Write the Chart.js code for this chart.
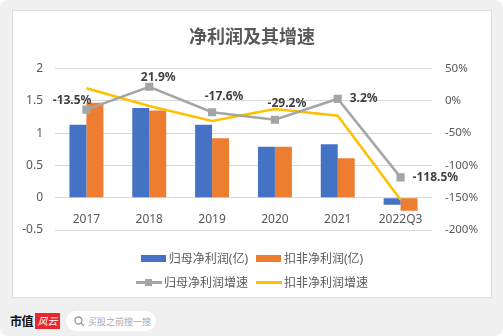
<!DOCTYPE html>
<html>
<head>
<meta charset="utf-8">
<script src="https://cdn.jsdelivr.net/npm/chart.js@4.4.1/dist/chart.umd.min.js"></script>
<style>
  body { margin: 0; background: #fff; font-family: "Noto Sans", "Noto Sans CJK SC", sans-serif; }
  #frame { position: relative; width: 503px; height: 336px; background: #f0f0f0; border-radius: 8px; overflow: hidden; }
  #card { position: absolute; left: 12px; top: 10px; width: 478px; height: 286px; background: #fff; border: 1px solid #dcdcdc; }
  #chartBox { position: absolute; left: 0; top: 0; width: 478px; height: 286px; }
  .legend-row { position: absolute; left: 0; width: 478px; display: flex; justify-content: center; gap: 8px; font-size: 12px; color: #595959; }
  .legend-item { display: flex; align-items: center; }
  .swatch { position: relative; width: 25px; height: 12px; margin-right: 3px; }
  .swatch .box { position: absolute; left: 0; top: 3px; width: 25px; height: 7px; }
  .swatch .line { position: absolute; left: 0; top: 5px; width: 26px; height: 2.5px; }
  .swatch .mark { position: absolute; left: 9px; top: 2.5px; width: 7px; height: 7px; }
  #footer { position: absolute; left: 10px; top: 311px; height: 20px; display: flex; align-items: center; }
  #brand { font-size: 12px; font-weight: bold; color: #111; letter-spacing: -0.5px; }
  #logo { margin-left: 2px; width: 25px; height: 16px; background: #e8262b; color: #fff; font-size: 10px; font-style: italic; line-height: 16px; text-align: center; }
  #search { margin-left: 6px; width: 90px; height: 20px; background: #fff; border-radius: 10px; display: flex; align-items: center; font-size: 9px; color: #aaa; }
  #search svg { margin: 0 3px 0 8px; }
</style>
</head>
<body>
<div id="frame">
  <div id="card">
    <div id="chartBox"><canvas id="chart"></canvas></div>
    <div class="legend-row" id="legend1" style="top:238px"></div>
    <div class="legend-row" id="legend2" style="top:262px"></div>
  </div>
  <div id="footer">
    <span id="brand">市值</span>
    <span id="logo">风云</span>
    <span id="search">
      <svg width="11" height="11" viewBox="0 0 11 11"><circle cx="4.5" cy="4.5" r="3.5" fill="none" stroke="#999" stroke-width="1.3"/><line x1="7" y1="7" x2="10" y2="10" stroke="#999" stroke-width="1.3"/></svg>
      买股之前搜一搜
    </span>
  </div>
</div>

<script>
// 数据
const years = ['2017', '2018', '2019', '2020', '2021', '2022Q3'];
const parentProfit = [1.13, 1.39, 1.13, 0.79, 0.83, -0.11];      // 归母净利润(亿)
const deductedProfit = [1.47, 1.35, 0.92, 0.79, 0.61, -0.20];    // 扣非净利润(亿)
const parentGrowth = [-13.5, 21.9, -17.6, -29.2, 3.2, -118.5];   // 归母净利润增速 %
const deductedGrowth = [19.5, -8, -31, -12.5, -23, -153];        // 扣非净利润增速 %

const seriesNames = ['归母净利润(亿)', '扣非净利润(亿)', '归母净利润增速', '扣非净利润增速'];
const COLORS = { blue: '#4472C4', orange: '#ED7D31', gray: '#A5A5A5', yellow: '#FFC000' };
const TEXT = '#595959';
const FONT = '"Noto Sans", "Noto Sans CJK SC", sans-serif';

// 归母增速的数据标签（位置手动调过，跟原图一致）
const growthLabels = {
  id: 'growthLabels',
  afterDatasetsDraw(chart) {
    const meta = chart.getDatasetMeta(2);
    const ctx = chart.ctx;
    const place = ['upleft', 'up', 'upright', 'upright', 'right', 'right'];
    ctx.save();
    ctx.font = 'bold 12px ' + FONT;
    ctx.fillStyle = '#404040';
    ctx.textBaseline = 'middle';
    meta.data.forEach((pt, i) => {
      const txt = parentGrowth[i].toFixed(1) + '%';
      const p = place[i];
      if (p === 'upleft') { ctx.textAlign = 'right'; ctx.fillText(txt, pt.x + 5, pt.y - 9); }
      else if (p === 'up') { ctx.textAlign = 'center'; ctx.fillText(txt, pt.x + 9, pt.y - 9); }
      else if (p === 'upright') { ctx.textAlign = 'center'; ctx.fillText(txt, pt.x + 12, pt.y - 16); }
      else { ctx.textAlign = 'left'; ctx.fillText(txt, pt.x + 12, pt.y); }
    });
    ctx.restore();
  }
};

new Chart(document.getElementById('chart'), {
  type: 'bar',
  data: {
    labels: years,
    datasets: [
      { label: seriesNames[0], data: parentProfit, backgroundColor: COLORS.blue, yAxisID: 'y', order: 2,
        barPercentage: 1, categoryPercentage: 0.54 },
      { label: seriesNames[1], data: deductedProfit, backgroundColor: COLORS.orange, yAxisID: 'y', order: 2,
        barPercentage: 1, categoryPercentage: 0.54 },
      { type: 'line', label: seriesNames[2], data: parentGrowth, yAxisID: 'y1', order: 0,
        borderColor: COLORS.gray, backgroundColor: COLORS.gray, borderWidth: 2.5,
        pointStyle: 'rect', pointRadius: 4, pointHoverRadius: 4, tension: 0 },
      { type: 'line', label: seriesNames[3], data: deductedGrowth, yAxisID: 'y1', order: 1,
        borderColor: COLORS.yellow, backgroundColor: COLORS.yellow, borderWidth: 2.5,
        pointRadius: 0, tension: 0 }
    ]
  },
  options: {
    responsive: true,
    maintainAspectRatio: false,
    animation: false,
    layout: { padding: { left: 0, right: 0, top: 0, bottom: 67 } },
    plugins: {
      legend: { display: false },
      tooltip: { enabled: false },
      title: {
        display: true,
        text: '净利润及其增速',
        color: TEXT,
        font: { family: FONT, size: 18, weight: 'bold' },
        padding: { top: 16, bottom: 20 }
      }
    },
    scales: {
      x: {
        position: { y: 0 },
        grid: { display: false },
        border: { display: false },
        ticks: { color: TEXT, font: { family: FONT, size: 12 }, padding: 7, maxRotation: 0 }
      },
      y: {
        position: 'left',
        min: -0.5, max: 2,
        ticks: { stepSize: 0.5, color: TEXT, font: { family: FONT, size: 12 }, padding: 12, callback: v => String(v) },
        grid: { color: '#d9d9d9', drawTicks: false },
        border: { display: false },
        afterFit: s => { s.width = 42; }
      },
      y1: {
        position: 'right',
        min: -200, max: 50,
        ticks: { stepSize: 50, color: TEXT, font: { family: FONT, size: 11.5 }, padding: 13, callback: v => v + '%' },
        grid: { display: false, drawTicks: false },
        border: { display: false },
        afterFit: s => { s.width = 59; }
      }
    }
  },
  plugins: [growthLabels]
});

// 图例（两行，跟原图一样）
function legendItem(name, swatchHtml) {
  return `<div class="legend-item"><div class="swatch">${swatchHtml}</div><span>${name}</span></div>`;
}
document.getElementById('legend1').innerHTML =
  legendItem(seriesNames[0], `<div class="box" style="background:${COLORS.blue}"></div>`) +
  legendItem(seriesNames[1], `<div class="box" style="background:${COLORS.orange}"></div>`);
document.getElementById('legend2').innerHTML =
  legendItem(seriesNames[2], `<div class="line" style="background:${COLORS.gray}"></div><div class="mark" style="background:${COLORS.gray}"></div>`) +
  legendItem(seriesNames[3], `<div class="line" style="background:${COLORS.yellow}"></div>`);
</script>
</body>
</html>
